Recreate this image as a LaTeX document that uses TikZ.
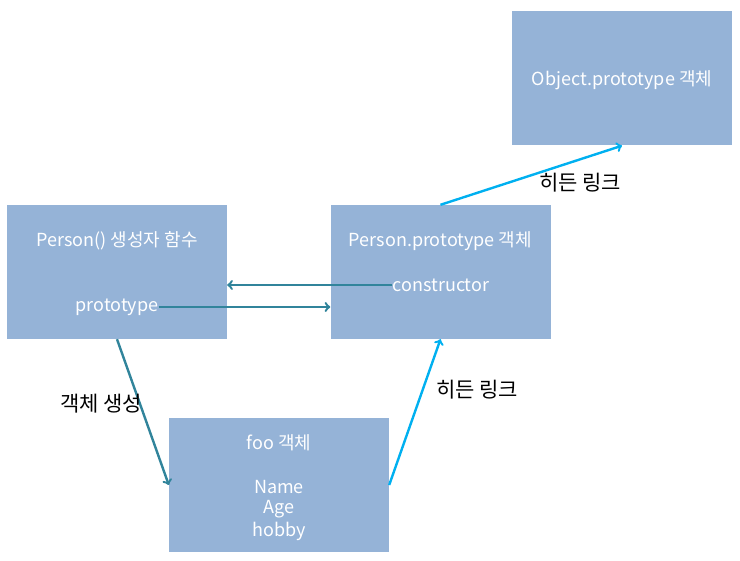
\documentclass[tikz,border=0pt]{standalone}
\usepackage{fontspec}
\setmainfont{Noto Sans CJK KR}
\usetikzlibrary{arrows}
\definecolor{boxblue}{HTML}{95B3D7}
\definecolor{darkteal}{HTML}{31849B}
\definecolor{skyblue}{HTML}{00B0F0}
\tikzstyle{box} = [fill=boxblue, minimum width=220pt, minimum height=134pt, inner sep=0pt]
\tikzstyle{intext} = [text=white, inner sep=0pt, font=\fontsize{18}{21}\selectfont]
\tikzstyle{label} = [text=black, inner sep=0pt, font=\fontsize{21}{24}\selectfont]
\tikzstyle{make} = [draw=darkteal, line width=2.4pt, ->]
\tikzstyle{hidden} = [draw=skyblue, line width=2.4pt, ->]

\begin{document}
\begin{tikzpicture}[x=1pt,y=-1pt]
    \useasboundingbox (0,0) rectangle (740,561);
    \node[box] (obj) at (622,78.5) {};
    \node[box] (person) at (117,272) {};
    \node[box] (pproto) at (440.5,272) {};
    \node[box] (foo) at (279,485) {};
    \node[intext] (objname) at (622,80) {Object.prototype 객체};
    \node[intext] (pname) at (117,241) {Person() 생성자 함수};
    \node[intext] (proto) at (117,307) {prototype};
    \node[intext] (ppname) at (440.5,241) {Person.prototype 객체};
    \node[intext] (ctor) at (441,285) {constructor};
    \node[intext] (fooname) at (279,443) {foo 객체};
    \node[intext] (name) at (279,487) {Name};
    \node[intext] (age) at (279,509) {Age};
    \node[intext] (hobby) at (279,531) {hobby};
    \draw[make] (ctor.west) -- (ctor.west -| person.east);
    \draw[make] (proto.east) -- (proto.east -| pproto.west);
    \draw[make] (person.south) -- (foo.west);
    \draw[hidden] (foo.east) -- (pproto.south);
    \draw[hidden] (pproto.north) -- (obj.south);
    \node[label] (toplink) at (580,183) {히든 링크};
    \node[label] (botlink) at (477,390) {히든 링크};
    \node[label] (create) at (101,404) {객체 생성};
  \end{tikzpicture}
\end{document}
